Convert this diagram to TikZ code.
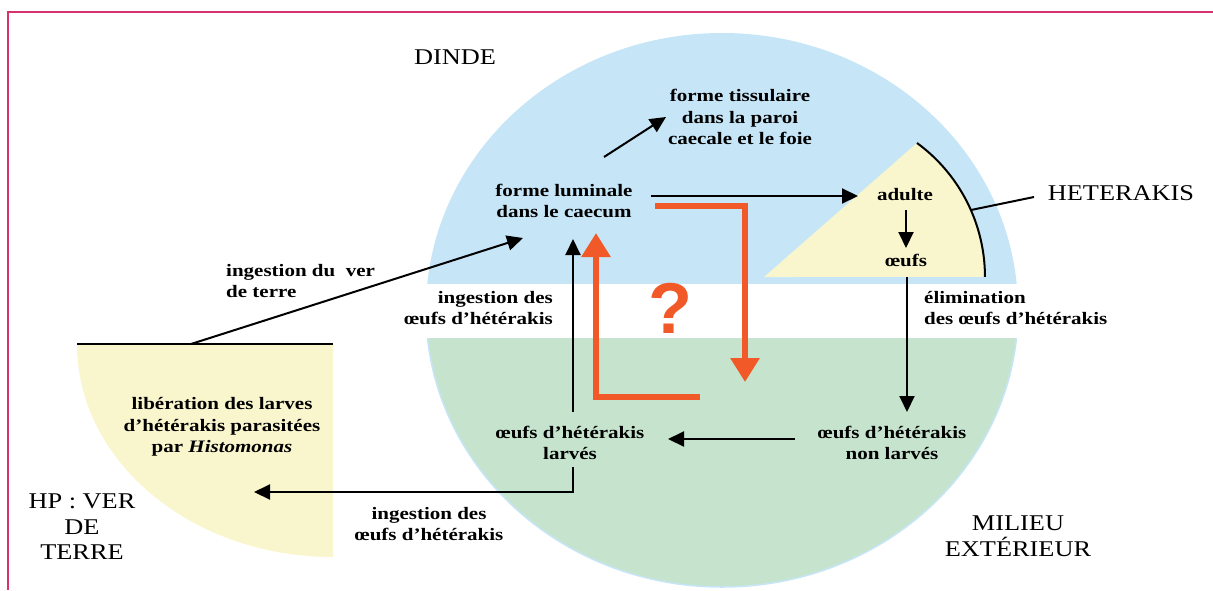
\documentclass[tikz,border=0pt]{standalone}
\usepackage{fontspec}
\setmainfont{Liberation Serif}
\newfontfamily\labfont[FakeStretch=1.2]{Liberation Serif}
\newfontfamily\bigfont[FakeStretch=1.17]{Liberation Serif}
\newfontfamily\qfont{Liberation Sans}
\usetikzlibrary{arrows.meta}
\definecolor{skyb}{RGB}{198,230,248}
\definecolor{mint}{RGB}{198,228,205}
\definecolor{cream}{RGB}{249,246,206}
\definecolor{orng}{RGB}{241,90,40}
\definecolor{framecol}{RGB}{214,50,110}
\begin{document}
\begin{tikzpicture}[x=1pt,y=-1pt,
  lab/.style={font={\labfont\bfseries\fontsize{17.5}{21.5}\selectfont}, align=center, inner sep=0pt, text=black},
  big/.style={font={\bigfont\fontsize{22.5}{25.5}\selectfont}, align=center, inner sep=0pt, text=black},
  arr/.style={line width=2pt, -{Triangle[length=16pt,width=15pt]}},
  plain/.style={line width=2pt},
  oarr/.style={orng, line width=6pt, -{Triangle[length=24pt,width=28pt]}}]
\useasboundingbox (0,0) rectangle (1213,590);
% frame
\draw[framecol, line width=1.2pt] (8,590) -- (8,12) -- (1213,12);
% blue top part
\begin{scope}
  \clip (400,0) rectangle (1050,283);
  \fill[skyb] (722,310) ellipse [x radius=296, y radius=277];
\end{scope}
% green bottom part
\begin{scope}
  \clip (400,338) rectangle (1050,600);
  \fill[mint] (722,310) ellipse [x radius=296, y radius=277];
  \draw[skyb, line width=1.5pt] (722,310) ellipse [x radius=296, y radius=277];
\end{scope}
% heterakis sector
\fill[cream] (764,277) -- (917,143) arc[start angle=-53.8, end angle=0, radius=166] -- cycle;
\draw[plain] (917,143) arc[start angle=-53.8, end angle=0, radius=166];
% earthworm quarter
\fill[cream] (333,344) -- (333,557) arc[start angle=90, end angle=180, x radius=256, y radius=213] -- cycle;
\draw[plain] (77,344) -- (333,344);

% labels
\node[big] (dinde) at (455,57) {DINDE};
\node[big] (het) at (1121,193) {HETERAKIS};
\node[big] (hp) at (82,527) {HP : VER\\DE\\TERRE};
\node[big] (milieu) at (1018,536) {MILIEU\\EXTÉRIEUR};

\node[lab] (tiss) at (740,117) {forme tissulaire\\dans la paroi\\caecale et le foie};
\node[lab] (lum) at (564,201) {forme luminale\\dans le caecum};
\node[lab] (adulte) at (905,195) {adulte};
\node[lab] (oeufs) at (906,260) {œufs};
\node[lab, anchor=west, align=left] (elim) at (924,308) {élimination\\des œufs d’hétérakis};
\node[lab, anchor=west, align=left] (ingver) at (226,281) {ingestion du\ \ ver\\de terre};
\node[lab, anchor=east, align=right] (ingdes1) at (553,308) {ingestion des\\œufs d’hétérakis};
\node[lab] (nonlarv) at (892,443) {œufs d’hétérakis\\non larvés};
\node[lab] (larv) at (570,443) {œufs d’hétérakis\\larvés};
\node[lab] (lib) at (222,427) {libération des larves\\d’hétérakis parasitées\\par \textit{Histomonas}};
\node[lab] (ingdes2) at (429,524) {ingestion des\\œufs d’hétérakis};
\node[font={\qfont\bfseries\fontsize{72}{72}\selectfont}, text=orng, inner sep=0pt] (q) at (670,308) {?};

% connector points
\coordinate (wormA) at (191,344);
\coordinate (lumSW) at (523,238);
\coordinate (lumNE) at (604,157);
\coordinate (tissW) at (666,117);
\coordinate (lumE) at (651,196);
\coordinate (adW) at (858,196);
\coordinate (adS) at (906,210);
\coordinate (ovN) at (906,248);
\coordinate (ovS) at (907,277);
\coordinate (nlN) at (907,412);
\coordinate (nlW) at (795,439);
\coordinate (lvE) at (668,439);
\coordinate (lvN) at (573,412);
\coordinate (lumS) at (573,239);
\coordinate (lvS) at (573,467);
\coordinate (libE) at (254,492);
\coordinate (arcP) at (971,210);
\coordinate (hetW) at (1034,197);
\coordinate (o1a) at (655,206);
\coordinate (o1b) at (745,382);
\coordinate (o2a) at (700,397);
\coordinate (o2b) at (596,233);

\draw[arr] (wormA) -- (lumSW);
\draw[arr] (lumNE) -- (tissW);
\draw[arr] (lumE) -- (adW);
\draw[arr] (adS) -- (ovN);
\draw[arr] (ovS) -- (nlN);
\draw[arr] (nlW) -- (lvE);
\draw[arr] (lvN) -- (lumS);
\draw[arr] (lvS) |- (libE);
\draw[plain] (arcP) -- (hetW);
\draw[oarr] (o1a) -| (o1b);
\draw[oarr] (o2a) -| (o2b);
\end{tikzpicture}
\end{document}
